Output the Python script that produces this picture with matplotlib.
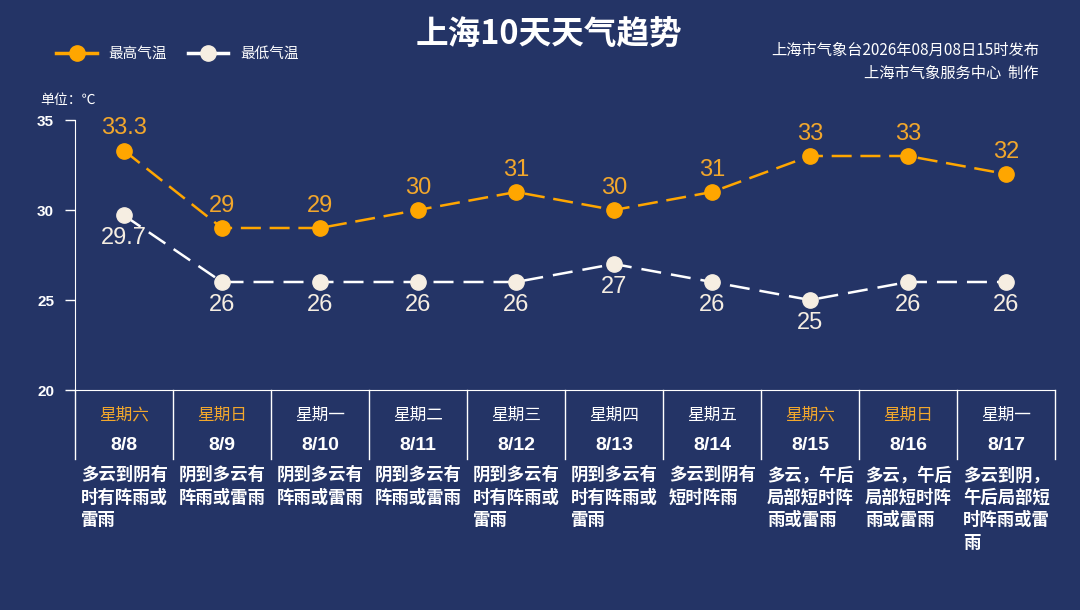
import matplotlib.pyplot as plt
from matplotlib.lines import Line2D
import matplotlib.transforms as mtransforms

plt.rcParams['font.family'] = ['Noto Sans CJK SC', 'DejaVu Sans']

days = ['星期六', '星期日', '星期一', '星期二', '星期三', '星期四', '星期五', '星期六', '星期日', '星期一']
dates = ['8/8', '8/9', '8/10', '8/11', '8/12', '8/13', '8/14', '8/15', '8/16', '8/17']
t_high = [33.3, 29, 29, 30, 31, 30, 31, 33, 33, 32]
t_low = [29.7, 26, 26, 26, 26, 27, 26, 25, 26, 26]
weather = ['多云到阴有时有阵雨或雷雨', '阴到多云有阵雨或雷雨', '阴到多云有阵雨或雷雨',
           '阴到多云有阵雨或雷雨', '阴到多云有时有阵雨或雷雨', '阴到多云有时有阵雨或雷雨',
           '多云到阴有短时阵雨', '多云，午后局部短时阵雨或雷雨', '多云，午后局部短时阵雨或雷雨',
           '多云到阴，午后局部短时阵雨或雷雨']
yticks = [20, 25, 30, 35]

bg = '#243466'
orange = '#FFA600'
orange_txt = '#F2A72C'
cream = '#F6EEE2'
num_font = ['Liberation Sans', 'Noto Sans CJK SC']

fig = plt.figure(figsize=(10.8, 6.1), dpi=100, facecolor=bg)
ax = fig.add_axes([75 / 1080, 1 - 390 / 610, 980 / 1080, 270 / 610])
ax.set_facecolor(bg)

x = list(range(len(dates)))
ax.plot(x, t_high, color=orange, lw=1.8, ls=(0, (8, 3.5)), marker='o', ms=11,
        mfc=orange, mec=orange, zorder=3)
ax.plot(x, t_low, color='white', lw=1.8, ls=(0, (8, 4)), marker='o', ms=11,
        mfc=cream, mec=cream, zorder=3)

for i in x:
    ax.annotate(f'{t_high[i]:g}', (i, t_high[i]), xytext=(0, 16), textcoords='offset points',
                ha='center', va='center', color=orange_txt, fontsize=17, family=num_font)
    ax.annotate(f'{t_low[i]:g}', (i, t_low[i]), xytext=(0, -16.5), textcoords='offset points',
                ha='center', va='center', color=cream, fontsize=17, family=num_font)

ax.set_xlim(-0.5, len(dates) - 0.5)
ax.set_ylim(20, 35)
ax.set_yticks(yticks)
ax.set_yticklabels([str(v) for v in yticks], fontsize=11, fontweight='bold', color='white',
                   family=num_font)
ax.tick_params(axis='y', colors='white', length=7, width=1, direction='out', pad=8)
ax.set_xticks([])
for s in ['top', 'right']:
    ax.spines[s].set_visible(False)
ax.spines['left'].set_color('white')
ax.spines['bottom'].set_color('white')
ax.spines['bottom'].set_bounds(-0.5, len(dates) - 0.5)

# table under the plot
trans = mtransforms.blended_transform_factory(ax.transData, ax.transAxes)
for k in range(len(dates) + 1):
    ax.add_line(Line2D([k - 0.5, k - 0.5], [0, -0.256], transform=trans, color='white',
                       lw=1, clip_on=False))
for i in x:
    c = orange_txt if days[i] in ('星期六', '星期日') else 'white'
    ax.text(i, -0.093, days[i], transform=trans, ha='center', va='center', color=c, fontsize=12)
    ax.text(i, -0.205, dates[i], transform=trans, ha='center', va='center', color='white',
            fontsize=14, fontweight='bold', family=num_font)
    w = weather[i]
    wrapped = '\n'.join(w[j:j + 5] for j in range(0, len(w), 5))
    ax.text(i - 0.44, -0.282, wrapped, transform=trans, ha='left', va='top', color='white',
            fontsize=12.5, fontweight='bold', linespacing=1.32)

# header
fig.text(549 / 1080, 1 - 35 / 610, '上海10天天气趋势', ha='center', va='center', color='white',
         fontsize=23.5, fontweight='bold')
fig.text(1039 / 1080, 1 - 50 / 610, '上海市气象台2026年08月08日15时发布', ha='right', va='center',
         color='white', fontsize=11)
fig.text(1039 / 1080, 1 - 73 / 610, '上海市气象服务中心  制作', ha='right', va='center',
         color='white', fontsize=11)
fig.text(40 / 1080, 1 - 100 / 610, '单位：℃', ha='left', va='center', color='white', fontsize=10)

leg = [Line2D([], [], color=orange, lw=2.5, marker='o', ms=11, mfc=orange, mec=orange),
       Line2D([], [], color='white', lw=2.5, marker='o', ms=11, mfc=cream, mec=cream)]
fig.legend(leg, ['最高气温', '最低气温'], loc='center left', bbox_to_anchor=(43 / 1080, 1 - 54 / 610),
           ncol=2, frameon=False, labelcolor='white', fontsize=10.5, handlelength=2.8,
           columnspacing=1.4, handletextpad=0.8)

fig.savefig('out.png', dpi=100, facecolor=bg)
